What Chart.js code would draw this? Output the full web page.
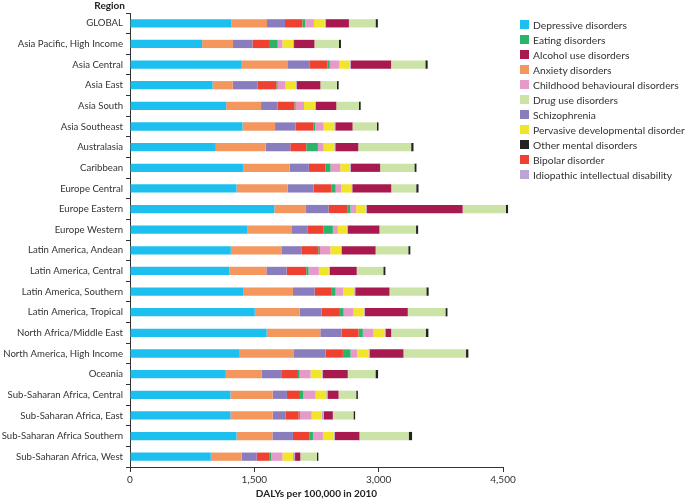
<!DOCTYPE html>
<html>
<head>
<meta charset="utf-8">
<script src="https://cdn.jsdelivr.net/npm/chart.js@4.4.0/dist/chart.umd.min.js"></script>
<style>
  body { margin: 0; background: #fff; }
  #wrap { position: relative; width: 685px; height: 502px; overflow: hidden; }
  #legend { position: absolute; left: 520px; top: 17px; font: 10.3px Lato, sans-serif; color: #333; }
  #legend .item { height: 15px; display: flex; align-items: center; white-space: nowrap; }
  #legend .box { width: 9px; height: 9px; margin-right: 4px; flex: none; }
</style>
</head>
<body>
<div id="wrap">
  <canvas id="chart" width="685" height="502"></canvas>
  <div id="legend"></div>
</div>
<script>
// regions, top to bottom
const regions = [
  'GLOBAL', 'Asia Pacific, High Income', 'Asia Central', 'Asia East', 'Asia South',
  'Asia Southeast', 'Australasia', 'Caribbean', 'Europe Central', 'Europe Eastern',
  'Europe Western', 'Latin America, Andean', 'Latin America, Central',
  'Latin America, Southern', 'Latin America, Tropical', 'North Africa/Middle East',
  'North America, High Income', 'Oceania', 'Sub-Saharan Africa, Central',
  'Sub-Saharan Africa, East', 'Sub-Saharan Africa Southern', 'Sub-Saharan Africa, West'
];

// DALYs per 100,000 (2010), one array per disorder, in stacking order
const depressive    = [1224, 870, 1348, 996, 1160, 1357, 1035, 1369, 1285, 1742, 1412, 1216, 1200, 1364, 1505, 1649, 1324, 1156, 1212, 1212, 1285, 975];
const anxiety       = [429, 373, 550, 244, 421, 393, 602, 557, 618, 380, 542, 610, 445, 602, 542, 647, 654, 433, 509, 509, 433, 373];
const schizophrenia = [217, 234, 272, 297, 201, 249, 297, 232, 313, 273, 185, 241, 244, 261, 265, 256, 382, 244, 172, 153, 248, 181];
const bipolar       = [209, 200, 213, 229, 201, 217, 193, 201, 217, 225, 196, 205, 237, 208, 220, 205, 208, 193, 157, 160, 201, 157];
const eating        = [36, 105, 28, 16, 16, 20, 140, 60, 48, 40, 112, 20, 28, 45, 45, 52, 93, 20, 41, 16, 40, 16];
const childhood     = [104, 57, 113, 93, 100, 100, 69, 117, 69, 69, 60, 125, 124, 93, 120, 129, 81, 132, 148, 141, 120, 137];
const pervasive     = [129, 128, 128, 128, 132, 129, 129, 116, 120, 116, 108, 128, 120, 132, 124, 132, 136, 136, 129, 120, 132, 128];
const idiopathic    = [12, 12, 12, 12, 12, 12, 12, 12, 12, 12, 12, 12, 12, 12, 12, 12, 12, 12, 15, 28, 12, 24];
const alcohol       = [281, 246, 486, 282, 246, 208, 277, 354, 470, 1156, 382, 406, 325, 413, 518, 69, 409, 301, 133, 108, 297, 64];
const drugUse       = [321, 296, 413, 200, 272, 293, 638, 413, 301, 523, 442, 394, 321, 445, 454, 417, 755, 334, 213, 249, 594, 200];
const otherMental   = [28, 24, 28, 20, 22, 20, 28, 25, 28, 25, 25, 25, 25, 28, 25, 32, 28, 32, 20, 20, 41, 17];

const xTicks = [0, 1500, 3000, 4500];

const series = [
  { label: 'Depressive disorders', data: depressive, color: '#1dbfef' },
  { label: 'Anxiety disorders', data: anxiety, color: '#f4975e' },
  { label: 'Schizophrenia', data: schizophrenia, color: '#8a7dbe' },
  { label: 'Bipolar disorder', data: bipolar, color: '#ee4130' },
  { label: 'Eating disorders', data: eating, color: '#2bb36b' },
  { label: 'Childhood behavioural disorders', data: childhood, color: '#e59ac8' },
  { label: 'Pervasive developmental  disorders', data: pervasive, color: '#f1e52b' },
  { label: 'Idiopathic intellectual disability', data: idiopathic, color: '#b9a6d6' },
  { label: 'Alcohol use disorders', data: alcohol, color: '#a81a4f' },
  { label: 'Drug use disorders', data: drugUse, color: '#cbe3a6' },
  { label: 'Other mental disorders', data: otherMental, color: '#222222' }
];

// order the legend is listed in
const legendOrder = [
  'Depressive disorders', 'Eating disorders', 'Alcohol use disorders', 'Anxiety disorders',
  'Childhood behavioural disorders', 'Drug use disorders', 'Schizophrenia',
  'Pervasive developmental  disorders', 'Other mental disorders', 'Bipolar disorder',
  'Idiopathic intellectual disability'
];

Chart.defaults.font.family = 'Lato, sans-serif';
Chart.defaults.font.size = 10;
Chart.defaults.color = '#333';

const regionTitle = {
  id: 'regionTitle',
  afterDraw(chart) {
    const ctx = chart.ctx;
    ctx.save();
    ctx.font = 'bold 10px Lato, sans-serif';
    ctx.fillStyle = '#222';
    ctx.textAlign = 'right';
    ctx.textBaseline = 'middle';
    ctx.fillText('Region', 125, 6);
    ctx.restore();
  }
};

const ctx = document.getElementById('chart').getContext('2d');
const chart = new Chart(ctx, {
  type: 'bar',
  data: {
    labels: regions,
    datasets: series.map((s) => ({
      label: s.label,
      data: s.data,
      backgroundColor: s.color,
      borderWidth: 0,
      barPercentage: 0.4,
      categoryPercentage: 1,
      clip: false
    }))
  },
  options: {
    responsive: false,
    animation: false,
    indexAxis: 'y',
    layout: { padding: { top: 13, right: 182, left: 0, bottom: 0 } },
    plugins: {
      legend: { display: false },
      tooltip: { enabled: false }
    },
    scales: {
      x: {
        stacked: true,
        min: 0,
        max: 4500,
        afterBuildTicks: (axis) => { axis.ticks = xTicks.map((v) => ({ value: v })); },
        afterFit: (axis) => { axis.height = 35; },
        ticks: { padding: 2, color: '#333' },
        grid: { drawOnChartArea: false, tickLength: 5, color: '#333' },
        border: { color: '#333', width: 1 },
        title: {
          display: true,
          text: 'DALYs per 100,000 in 2010',
          font: { weight: 'bold', size: 10 },
          color: '#222',
          padding: { top: 4, bottom: 2 }
        }
      },
      y: {
        stacked: true,
        afterFit: (axis) => { axis.width = 130; },
        ticks: { padding: 3, color: '#333', font: { size: 9.6 } },
        grid: { drawOnChartArea: false, offset: true, tickLength: 4, color: '#333' },
        border: { color: '#333', width: 1 }
      }
    }
  },
  plugins: [regionTitle]
});

// legend built from the chart's datasets
const legendEl = document.getElementById('legend');
legendOrder.forEach((name) => {
  const s = series.find((d) => d.label === name);
  const item = document.createElement('div');
  item.className = 'item';
  const box = document.createElement('span');
  box.className = 'box';
  box.style.background = s.color;
  const txt = document.createElement('span');
  txt.textContent = s.label;
  item.appendChild(box);
  item.appendChild(txt);
  legendEl.appendChild(item);
});
</script>
</body>
</html>
